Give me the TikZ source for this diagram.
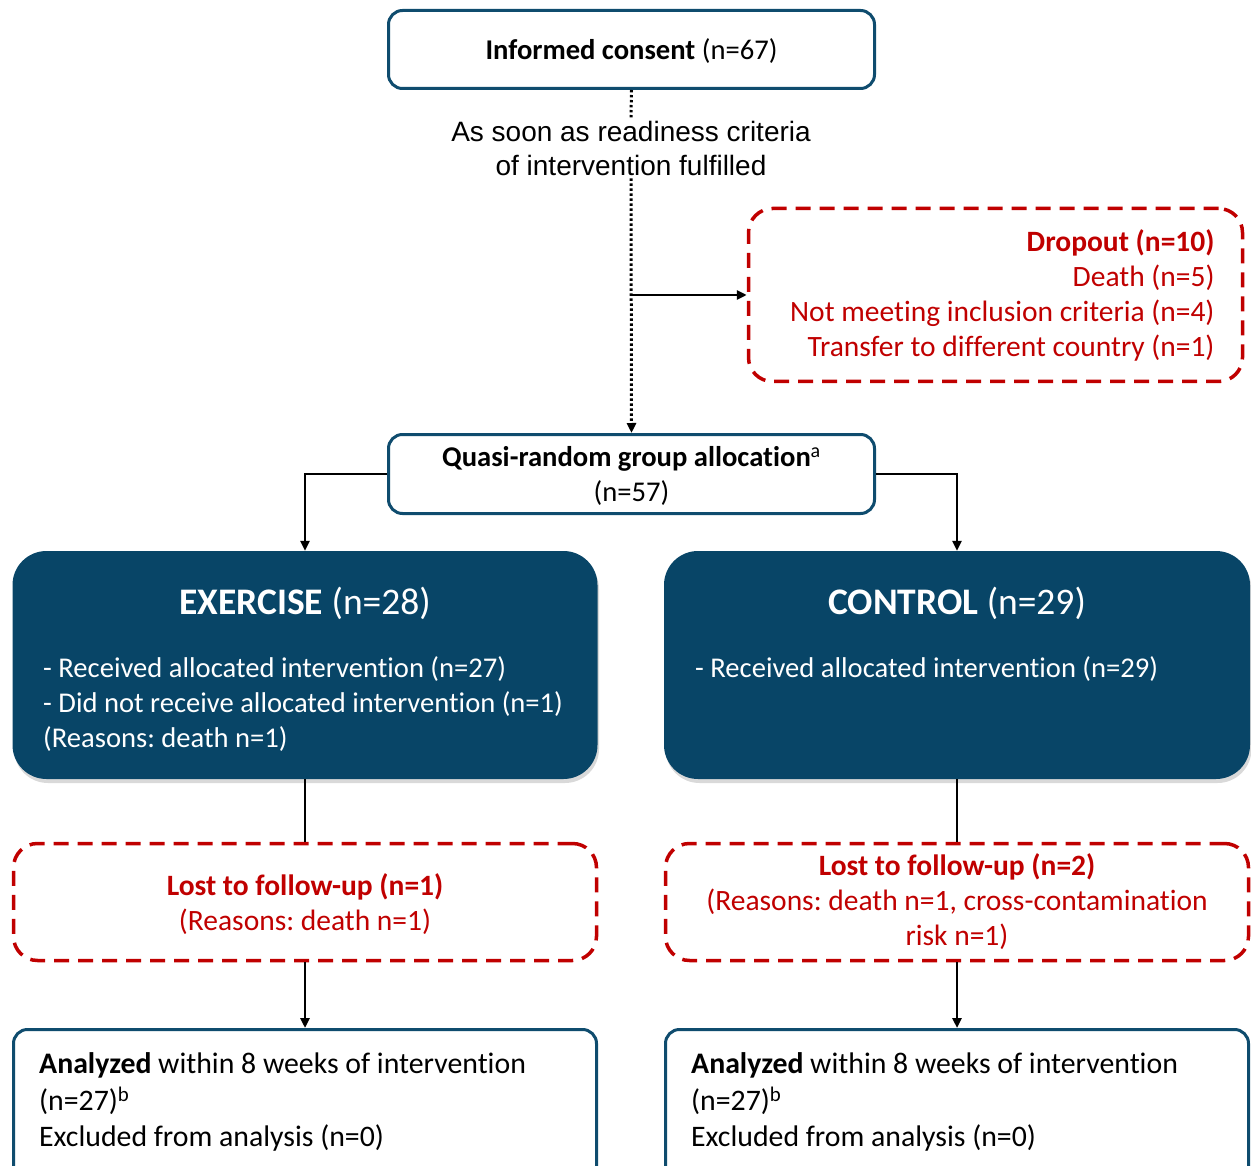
\documentclass[tikz,border=0pt]{standalone}
\usepackage{fontspec}
\setmainfont{Carlito}[Ligatures=NoCommon]
\newfontfamily\arialf{Liberation Sans}
\usetikzlibrary{arrows.meta,shadows,calc}
\definecolor{navy}{HTML}{084567}
\definecolor{navyline}{HTML}{0F4C6E}
\definecolor{dred}{HTML}{C00000}
\frenchspacing
\begin{document}
\frenchspacing
\begin{tikzpicture}[x=1pt,y=-1pt,
 body/.style={font=\frenchspacing\fontsize{29.5}{35}\selectfont},
 smallbody/.style={font=\frenchspacing\fontsize{28.6}{35}\selectfont},
 whitebox/.style={draw=navyline, line width=3pt, rounded corners=14pt, fill=white, inner sep=0pt, smallbody, align=center},
 darkbox/.style={fill=navy, rounded corners=34pt, inner sep=0pt, drop shadow={opacity=0.3, shadow xshift=1.5pt, shadow yshift=-4pt}},
 redbox/.style={draw=dred, text=dred, line width=3.5pt, dash pattern=on 15pt off 9pt, rounded corners=24pt, inner sep=0pt, body, align=center},
 arr/.style={line width=2.6pt, -{Triangle[length=10pt,width=9pt]}},
 plainline/.style={line width=2.6pt},
 dots/.style={line width=3pt, dash pattern=on 2.4pt off 2.6pt},
 txt/.style={inner sep=0pt, body, align=left},
]
\useasboundingbox (0,0) rectangle (1251,1166);

\node[whitebox, minimum width=486pt, minimum height=78pt, text depth=0pt] (consent) at (631.5,49.5) {\textbf{Informed consent} (n=67)};
\node[inner sep=3pt, align=center, font=\arialf\fontsize{28}{34}\selectfont] (ready) at (631,148) {As soon as readiness criteria\\of intervention fulfilled};

\node[redbox, minimum width=494pt, minimum height=173pt, text width=438pt, align=flush right, inner xsep=28pt] (drop) at (995.5,295)
 {\textbf{Dropout (n=10)}\\Death (n=5)\\Not meeting inclusion criteria (n=4)\\Transfer to different country (n=1)};

\node[whitebox, minimum width=486pt, minimum height=79pt] (quasi) at (631.5,474) {};
\node[inner sep=0pt, smallbody, align=center] (quasitext) at (631.5,476) {\textbf{Quasi-random group allocation}\textsuperscript{a}\\(n=57)};

\node[darkbox, minimum width=585pt, minimum height=228pt] (exc) at (305,665) {};
\node[darkbox, minimum width=586pt, minimum height=228pt] (ctl) at (957,665) {};
\node[inner sep=0pt, text=white, font=\fontsize{37.5}{40}\selectfont] (exctitle) at (305,603) {\textbf{EXERCISE} (n=28)};
\node[inner sep=0pt, text=white, font=\fontsize{37.5}{40}\selectfont] (ctltitle) at (957,603) {\textbf{CONTROL} (n=29)};
\node[txt, smallbody, text=white, anchor=west] (exctext) at (43,704) {- Received allocated intervention (n=27)\\- Did not receive allocated intervention (n=1)\\(Reasons: death n=1)};
\node[txt, smallbody, text=white, anchor=west] (ctltext) at (695,669) {- Received allocated intervention (n=29)};

\node[redbox, minimum width=583pt, minimum height=117pt] (lostl) at (305,902) {};
\node[inner sep=0pt, body, text=dred, align=center] (lostltext) at (305,904) {\textbf{Lost to follow-up (n=1)}\\(Reasons: death n=1)};
\node[redbox, minimum width=583pt, minimum height=117pt] (lostr) at (957,902) {\textbf{Lost to follow-up (n=2)}\\(Reasons: death n=1, cross-contamination\\risk n=1)};

\node[whitebox, minimum width=583pt, minimum height=161pt] (anal) at (305,1110) {};
\node[whitebox, minimum width=583pt, minimum height=161pt] (anar) at (957,1110) {};
\node[txt, anchor=west, font=\frenchspacing\fontsize{29.8}{36.5}\selectfont] (analtext) at (39,1102) {\textbf{Analyzed} within 8 weeks of intervention\\(n=27)\textsuperscript{b}\\Excluded from analysis (n=0)};
\node[txt, anchor=west, font=\frenchspacing\fontsize{29.8}{36.5}\selectfont] (anartext) at (691,1102) {\textbf{Analyzed} within 8 weeks of intervention\\(n=27)\textsuperscript{b}\\Excluded from analysis (n=0)};

% connectors
\draw[dots] (consent.south) -- (ready.north);
\draw[dots, -{Triangle[length=10pt,width=9pt]}] (ready.south) -- (quasi.north);
\coordinate (br) at (ready.south |- drop.west);
\draw[arr] (br) -- (drop.west);
\draw[arr] (quasi.west) -| (exc.north);
\draw[arr] (quasi.east) -| (ctl.north);
\draw[plainline] (exc.south) -- (lostl.north);
\draw[plainline] (ctl.south) -- (lostr.north);
\draw[arr] (lostl.south) -- (anal.north);
\draw[arr] (lostr.south) -- (anar.north);
\end{tikzpicture}
\end{document}
